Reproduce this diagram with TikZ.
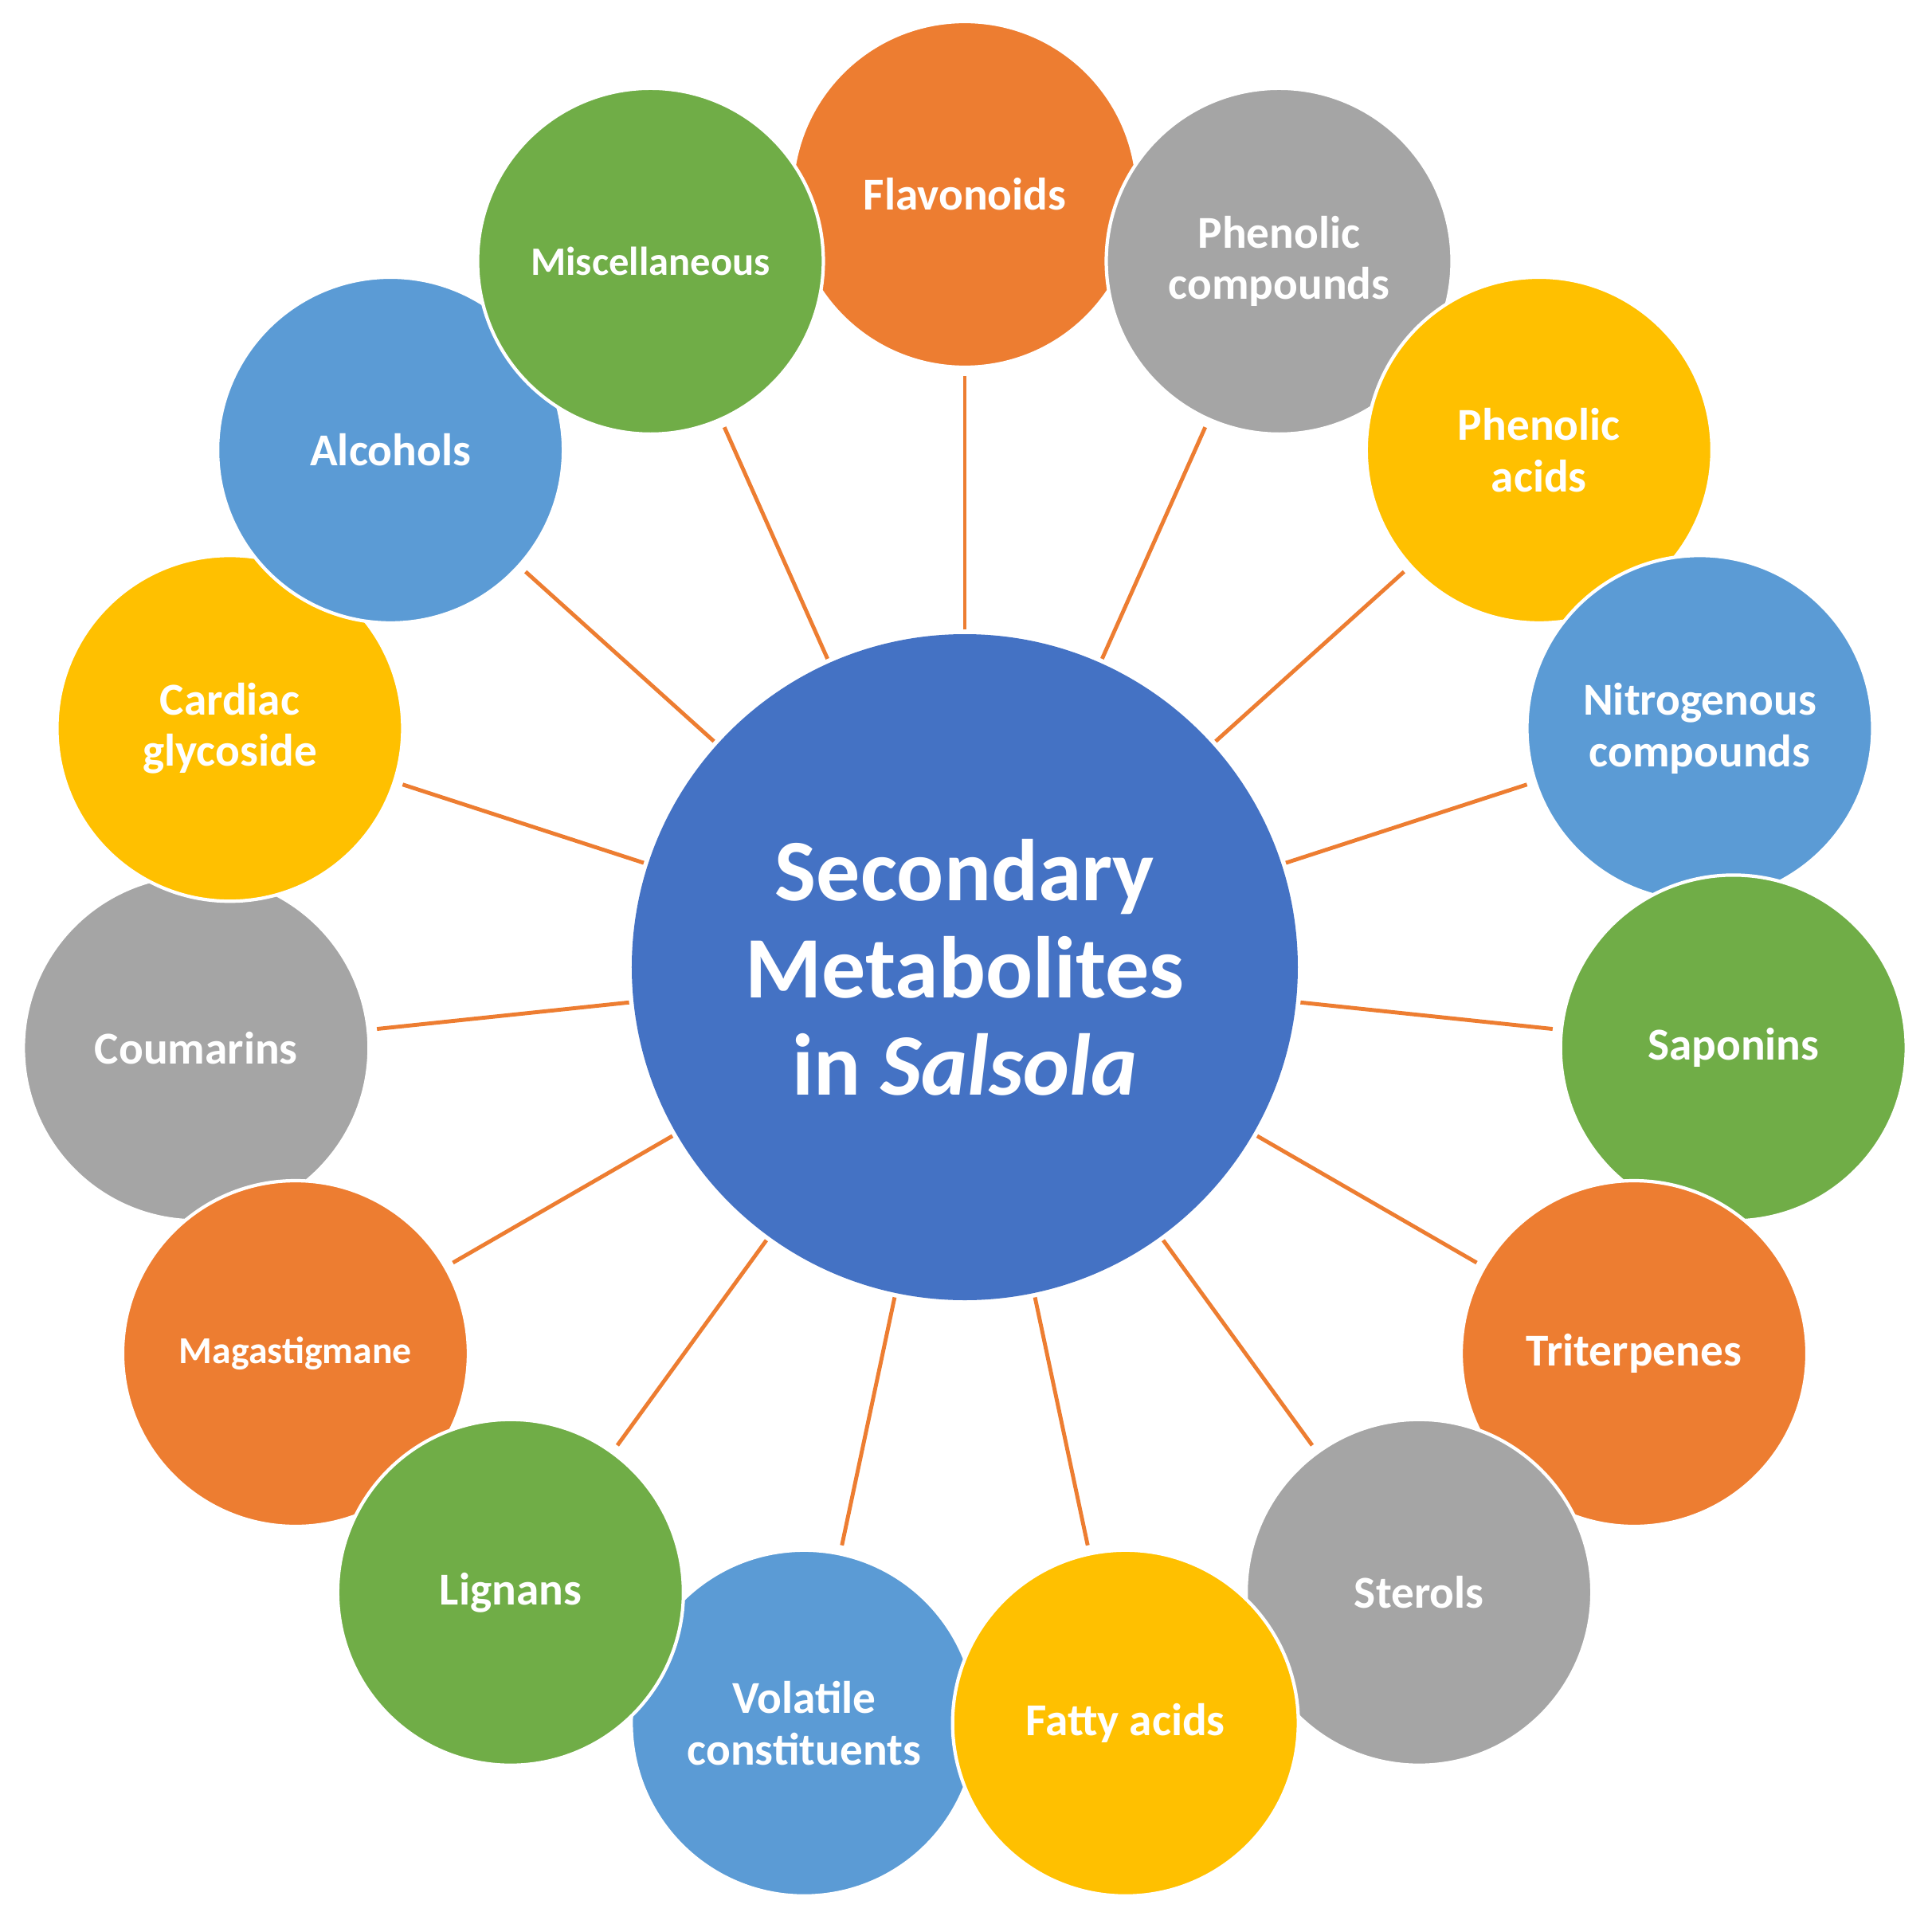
\documentclass[tikz,border=0pt]{standalone}
\usepackage{fontspec}
\setmainfont{Carlito}
\usepackage{xcolor}
\usetikzlibrary{math}
\definecolor{qorange}{RGB}{237,125,49}
\definecolor{qgray}{RGB}{165,165,165}
\definecolor{qyellow}{RGB}{255,192,0}
\definecolor{qblue}{RGB}{91,155,213}
\definecolor{qgreen}{RGB}{112,173,71}
\definecolor{qhub}{RGB}{68,114,196}

\begin{document}
\begin{tikzpicture}[
sat/.style={circle, draw=white, line width=1.2pt, minimum size=4.34cm, inner sep=0pt,
  text=white, align=center, font=\bfseries},
hub/.style={circle, fill=qhub, minimum size=8.36cm, inner sep=0pt, text=white,
  align=center, font=\bfseries\fontsize{31.3}{34.7}\selectfont},
spoke/.style={draw=qorange, line width=1.4pt, shorten <=0.05cm, shorten >=0.09cm}
]

\tikzmath{
\R = 9.70;%orbit radius
}
\useasboundingbox (-12.11,-11.90) rectangle (12.14,12.14);

\node[hub] (hub) at (0,0) {Secondary\\Metabolites\\in \textit{Salsola}};

% satellites, listed in the order they overlap: name/colour/angle/size/label
\foreach \n/\col/\ang/\fs/\txt in {
  coum/qgray/186/16.3/Coumarins,
  vol/qblue/258/16.3/{Volatile\\constituents},
  flav/qorange/90/16.3/Flavonoids,
  phc/qgray/66/16.3/{Phenolic\\compounds},
  pha/qyellow/42/16.3/{Phenolic\\acids},
  nit/qblue/18/16.3/{Nitrogenous\\compounds},
  sap/qgreen/-6/16.3/Saponins,
  tri/qorange/-30/16.3/Triterpenes,
  ster/qgray/-54/16.3/Sterols,
  fat/qyellow/-78/16.3/Fatty acids,
  mag/qorange/210/13.6/Magastigmane,
  lig/qgreen/234/16.3/Lignans,
  card/qyellow/162/16.3/{Cardiac\\glycoside},
  alc/qblue/138/16.3/Alcohols,
  misc/qgreen/114/14.4/Miscellaneous}{
\node[sat, fill=\col, font=\bfseries\fontsize{\fs}{18.4}\selectfont] (\n) at (\ang:\R) {\txt};
}

\foreach \n in {flav,phc,pha,nit,sap,tri,ster,fat,vol,lig,mag,coum,card,alc,misc}{
\draw[spoke] (hub) -- (\n);
}

\end{tikzpicture}
\end{document}
